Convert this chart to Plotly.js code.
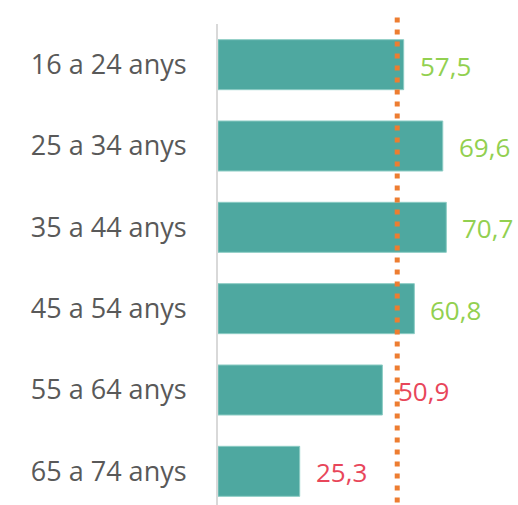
<!DOCTYPE html>
<html>
<head>
<meta charset="utf-8">
<script src="https://cdn.plot.ly/plotly-3.0.1.min.js"></script>
<style>html,body{margin:0;padding:0;background:#fff;}#chart{width:518px;height:505px;}</style>
</head>
<body>
<div id="chart"></div>
<script>
var categories = ["16 a 24 anys", "25 a 34 anys", "35 a 44 anys", "45 a 54 anys", "55 a 64 anys", "65 a 74 anys"];
var values = [57.5, 69.6, 70.7, 60.8, 50.9, 25.3];
var valueLabels = ["57,5", "69,6", "70,7", "60,8", "50,9", "25,3"];
var average = 55.5;

var green = "#92D050", red = "#E8465A";

var trace = {
  type: "bar",
  orientation: "h",
  y: categories,
  x: values,
  marker: {color: "#4EA8A0", line: {color: "#8CCCC4", width: 1}},
  hoverinfo: "none"
};

var annotations = values.map(function (v, i) {
  return {
    x: v, y: categories[i], xref: "x", yref: "y",
    text: valueLabels[i], showarrow: false,
    xanchor: "left", yanchor: "middle", xshift: 14, yshift: -1,
    font: {family: "Open Sans", size: 26, color: v >= average ? green : red}
  };
});

var layout = {
  width: 518, height: 505,
  margin: {l: 218, r: 0, t: 24, b: 0},
  paper_bgcolor: "#fff", plot_bgcolor: "rgba(0,0,0,0)",
  showlegend: false,
  bargap: 0.385,
  xaxis: {range: [0, 92.9], visible: false, fixedrange: true},
  yaxis: {
    type: "category",
    categoryorder: "array", categoryarray: categories,
    range: [5.414, -0.5],
    showline: true, linecolor: "#D9D9D9", linewidth: 2,
    showgrid: false, zeroline: false, ticks: "",
    ticklabelstandoff: 24,
    tickfont: {family: "Open Sans", size: 27, color: "#595959"}
  },
  annotations: annotations,
  shapes: [{
    type: "line", xref: "x", yref: "paper",
    x0: average, x1: average, y0: -0.02, y1: 1.0166,
    line: {color: "#ED7D31", width: 5, dash: "5px,7px"},
    layer: "above"
  }]
};

Plotly.newPlot("chart", [trace], layout, {displayModeBar: false, staticPlot: true});
</script>
</body>
</html>
